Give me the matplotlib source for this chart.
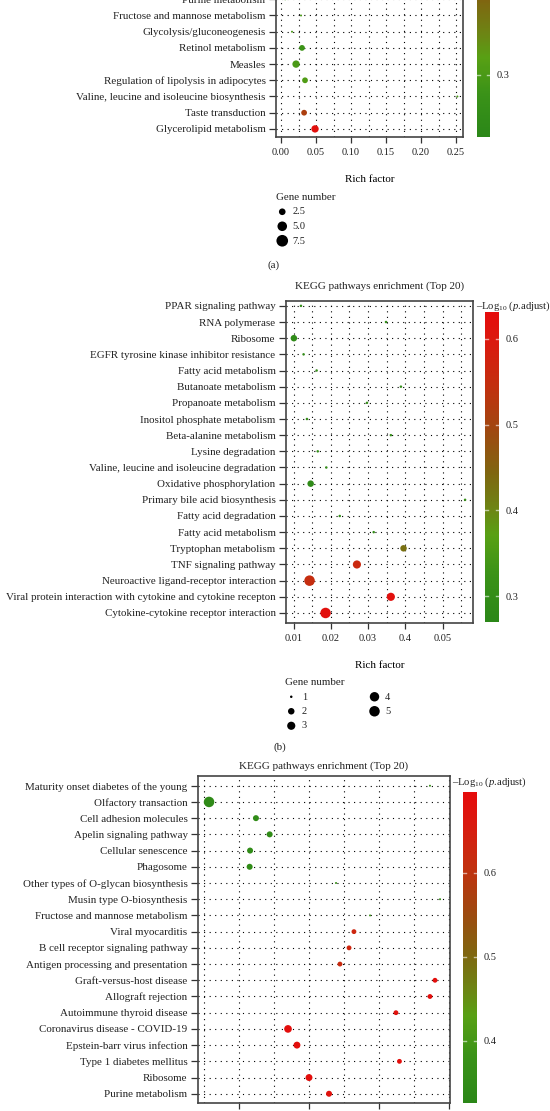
import numpy as np
import matplotlib
matplotlib.use('Agg')
import matplotlib.pyplot as plt
from matplotlib.colors import LinearSegmentedColormap, Normalize
from matplotlib.cm import ScalarMappable
from matplotlib.ticker import MultipleLocator, FixedLocator

plt.rcParams['font.family'] = ['Liberation Serif', 'DejaVu Serif']
plt.rcParams['mathtext.fontset'] = 'custom'
plt.rcParams['mathtext.rm'] = 'Liberation Serif'
plt.rcParams['mathtext.it'] = 'Liberation Serif:italic'
plt.rcParams['text.color'] = '#222222'
plt.rcParams['xtick.color'] = '#333333'
plt.rcParams['ytick.color'] = '#333333'
plt.rcParams['xtick.labelcolor'] = '#222222'
plt.rcParams['ytick.labelcolor'] = '#222222'

# ---------------- data ----------------
# panel (a) (top part cropped in the reference)
a_pathways = ["Purine metabolism", "Fructose and mannose metabolism",
              "Glycolysis/gluconeogenesis", "Retinol metabolism", "Measles",
              "Regulation of lipolysis in adipocytes",
              "Valine, leucine and isoleucine biosynthesis",
              "Taste transduction", "Glycerolipid metabolism"]
a_rich = [0.006, 0.0286, 0.0157, 0.030, 0.0215, 0.0343, 0.252, 0.033, 0.0486]
a_genes = [1, 1, 1, 2, 3, 2, 1, 2, 3]
a_logp = [0.29, 0.30, 0.30, 0.28, 0.30, 0.31, 0.30, 0.45, 0.55]
a_xticks = [0.00, 0.05, 0.10, 0.15, 0.20, 0.25]
a_xticklabels = ["0.00", "0.05", "0.10", "0.15", "0.20", "0.25"]
a_cbar_ticks = [0.3]
a_legend = [2.5, 5.0, 7.5]
a_legend_labels = ["2.5", "5.0", "7.5"]

# panel (b)
b_pathways = ["PPAR signaling pathway", "RNA polymerase", "Ribosome",
              "EGFR tyrosine kinase inhibitor resistance",
              "Fatty acid metabolism", "Butanoate metabolism",
              "Propanoate metabolism", "Inositol phosphate metabolism",
              "Beta-alanine metabolism", "Lysine degradation",
              "Valine, leucine and isoleucine degradation",
              "Oxidative phosphorylation", "Primary bile acid biosynthesis",
              "Fatty acid degradation", "Fatty acid metabolism",
              "Tryptophan metabolism", "TNF signaling pathway",
              "Neuroactive ligand-receptor interaction",
              "Viral protein interaction with cytokine and cytokine recepton",
              "Cytokine-cytokine receptor interaction"]
b_rich = [0.0120, 0.0348, 0.0101, 0.0127, 0.0162, 0.0388, 0.0297, 0.0136,
          0.0361, 0.0165, 0.0188, 0.0146, 0.0560, 0.0224, 0.0315, 0.0395,
          0.0270, 0.0143, 0.0361, 0.0186]
b_genes = [1, 1, 2, 1, 1, 1, 1, 1, 1, 1, 1, 2, 1, 1, 1, 2, 3, 5, 3, 5]
b_logp = [0.30, 0.30, 0.29, 0.30, 0.30, 0.30, 0.30, 0.30, 0.30, 0.30,
          0.30, 0.29, 0.31, 0.30, 0.30, 0.43, 0.56, 0.55, 0.62, 0.62]
b_xticks = [0.01, 0.02, 0.03, 0.04, 0.05]
b_xticklabels = ["0.01", "0.02", "0.03", "0.4", "0.05"]
b_cbar_ticks = [0.3, 0.4, 0.5, 0.6]
b_legend = [1, 2, 3, 4, 5]
b_legend_labels = ["1", "2", "3", "4", "5"]

# panel (c) (x tick labels cropped away in the reference)
c_pathways = ["Maturity onset diabetes of the young", "Olfactory transaction",
              "Cell adhesion molecules", "Apelin signaling pathway",
              "Cellular senescence", "Phagosome",
              "Other types of O-glycan biosynthesis",
              "Musin type O-biosynthesis", "Fructose and mannose metabolism",
              "Viral myocarditis", "B cell receptor signaling pathway",
              "Antigen processing and presentation",
              "Graft-versus-host disease", "Allograft rejection",
              "Autoimmune thyroid disease", "Coronavirus disease - COVID-19",
              "Epstein-barr virus infection", "Type 1 diabetes mellitus",
              "Ribosome", "Purine metabolism"]
c_rich = [0.1864, 0.0286, 0.0621, 0.0719, 0.0579, 0.0576, 0.1193, 0.1936,
          0.1436, 0.1321, 0.1286, 0.1221, 0.1900, 0.1864, 0.1621, 0.0850,
          0.0914, 0.1646, 0.1000, 0.1143]
c_genes = [1, 10, 3, 3, 3, 3, 1, 1, 1, 2, 2, 2, 2, 2, 2, 5, 4, 2, 4, 3]
c_logp = [0.37, 0.34, 0.35, 0.35, 0.35, 0.35, 0.37, 0.37, 0.38, 0.63,
          0.63, 0.62, 0.69, 0.69, 0.68, 0.69, 0.69, 0.69, 0.69, 0.68]
c_xticks = [0.05, 0.10, 0.15, 0.20]
c_cbar_ticks = [0.4, 0.5, 0.6]

title_text = "KEGG pathways enrichment (Top 20)"
cbar_label = "\u2013Log$_{10}$ ($p$.adjust)"

# ---------------- style ----------------
cmap = LinearSegmentedColormap.from_list("kegg", [
    (0.00, "#2b8718"), (0.15, "#3a9218"), (0.28, "#58a014"),
    (0.36, "#6c8614"), (0.48, "#7f6610"), (0.62, "#a04810"),
    (0.76, "#c2300f"), (0.90, "#da1a0f"), (1.00, "#e50c0c")])

W, H = 550, 1111
FS = 7.9       # pathway labels
FS_T = 7.5     # tick labels / legend
fig = plt.figure(figsize=(5.5, 11.11), dpi=100)


def rect(l, t, r, b):
    return [l / W, 1 - b / H, (r - l) / W, (b - t) / H]


def diam_scale(g, gmin, gmax, dmin, dmax):
    g = np.asarray(g, float)
    return dmin + (dmax - dmin) * np.sqrt(np.clip((g - gmin) / (gmax - gmin), 0, 1))


def msize(d_px):
    return (np.asarray(d_px) * 72.0 / 100.0) ** 2


grid_ls = (0, (1, 4))


def dot_panel(box, names, rich, genes, logp, xlim, ylim, xticks, xminor,
              xticklabels, norm, size_par):
    ax = fig.add_axes(rect(*box))
    y = np.arange(len(names))
    ax.set_xlim(*xlim)
    ax.set_ylim(*ylim)
    ax.set_yticks(y)
    ax.set_yticklabels(names, fontsize=FS)
    ax.xaxis.set_major_locator(FixedLocator(xticks))
    ax.xaxis.set_minor_locator(MultipleLocator(xminor))
    ax.set_xticklabels(xticklabels, fontsize=FS_T)
    ax.tick_params(axis='y', length=5, width=0.9, pad=2.5)
    ax.tick_params(axis='x', which='major', length=4, width=0.9, pad=4)
    ax.tick_params(axis='x', which='minor', length=0)
    ax.grid(True, axis='x', which='both', ls=grid_ls, color='black', lw=0.8)
    ax.grid(True, axis='y', which='major', ls=grid_ls, color='black', lw=0.8)
    ax.set_axisbelow(True)
    for sp in ax.spines.values():
        sp.set_color('#444444')
        sp.set_linewidth(1.2)
    d = diam_scale(genes, *size_par)
    ax.scatter(rich, y, s=msize(d), c=logp, cmap=cmap, norm=norm,
               edgecolors='none', zorder=3)
    return ax


def colorbar(box, norm, ticks, label_xy=None):
    cax = fig.add_axes(rect(*box))
    cb = fig.colorbar(ScalarMappable(norm=norm, cmap=cmap), cax=cax)
    cb.outline.set_visible(False)
    cb.set_ticks(ticks)
    cb.set_ticklabels([f"{t:.1f}" for t in ticks])
    cax.tick_params(length=0, labelsize=FS_T, pad=5)
    for t in ticks:
        cax.axhline(t, 0, 0.22, color='white', lw=1.0, alpha=0.6)
        cax.axhline(t, 0.78, 1, color='white', lw=1.0, alpha=0.6)
    if label_xy is not None:
        fig.text(label_xy[0] / W, 1 - label_xy[1] / H, cbar_label,
                 fontsize=7.7, ha='left', va='center')
    return cax


def size_legend(vals, labels, size_par, anchor, ncol=1, colsp=2.0):
    handles = [plt.scatter([], [], s=msize(diam_scale(v, *size_par)),
                           color='black', edgecolors='none') for v in vals]
    leg = fig.legend(handles, labels, title="Gene number", loc='upper left',
                     bbox_to_anchor=(anchor[0] / W, 1 - anchor[1] / H),
                     frameon=False, fontsize=FS_T, title_fontsize=FS,
                     ncol=ncol, columnspacing=colsp, handletextpad=0.4,
                     labelspacing=0.5, borderpad=0, borderaxespad=0,
                     alignment='left', scatterpoints=1, handlelength=1.2)
    return leg


# ---------- panel (a) ----------
px_a = 700.0
a_x0 = 0.0 - (281 - 276) / px_a
a_x1 = 0.0 + (463 - 281) / px_a
norm_a = Normalize(0.227, 0.56)
axa = dot_panel((276, -187, 463, 137), a_pathways, a_rich, a_genes, a_logp,
                (a_x0, a_x1), (8.5, -11.5), a_xticks, 0.025, a_xticklabels,
                norm_a, (1, 8, 2.0, 12.0))
axa.set_xlabel("Rich factor", fontsize=7.9, labelpad=13)
colorbar((477, -146, 490, 137), norm_a, a_cbar_ticks)
size_legend(a_legend, a_legend_labels, (1, 8, 2.0, 12.0), (276, 193))
fig.text(274 / W, 1 - 265 / H, "(a)", fontsize=FS, ha='center', va='center')

# ---------- panel (b) ----------
px_b = 3730.0
b_x0 = 0.01 - (293.5 - 286) / px_b
b_x1 = 0.01 + (473 - 293.5) / px_b
norm_b = Normalize(0.2697, 0.6315)
axb = dot_panel((286, 301, 473, 623), b_pathways, b_rich, b_genes, b_logp,
                (b_x0, b_x1), (19.62, -0.3), b_xticks, 0.005, b_xticklabels,
                norm_b, (1, 5, 2.5, 10.5))
axb.set_xlabel("Rich factor", fontsize=7.9, labelpad=13)
axb.set_title(title_text, fontsize=8.0, pad=9)
colorbar((485, 312, 499, 622), norm_b, b_cbar_ticks, (476, 306))
size_legend(b_legend, b_legend_labels, (1, 5, 2.5, 10.5), (285, 678), ncol=2,
            colsp=5.9)
fig.text(280 / W, 1 - 747 / H, "(b)", fontsize=FS, ha='center', va='center')

# ---------- panel (c) ----------
px_c = 1400.0
c_x0 = 0.05 - (239 - 198) / px_c
c_x1 = 0.05 + (450 - 239) / px_c
norm_c = Normalize(0.326, 0.696)
axc = dot_panel((198, 776, 450, 1103), c_pathways, c_rich, c_genes, c_logp,
                (c_x0, c_x1), (19.57, -0.6), c_xticks, 0.025,
                [""] * len(c_xticks), norm_c, (1, 10, 2.0, 10.5))
axc.set_title(title_text, fontsize=8.0, pad=5)
colorbar((463, 792, 477, 1103), norm_c, c_cbar_ticks, (452, 782))

fig.savefig("out.png", dpi=100)
